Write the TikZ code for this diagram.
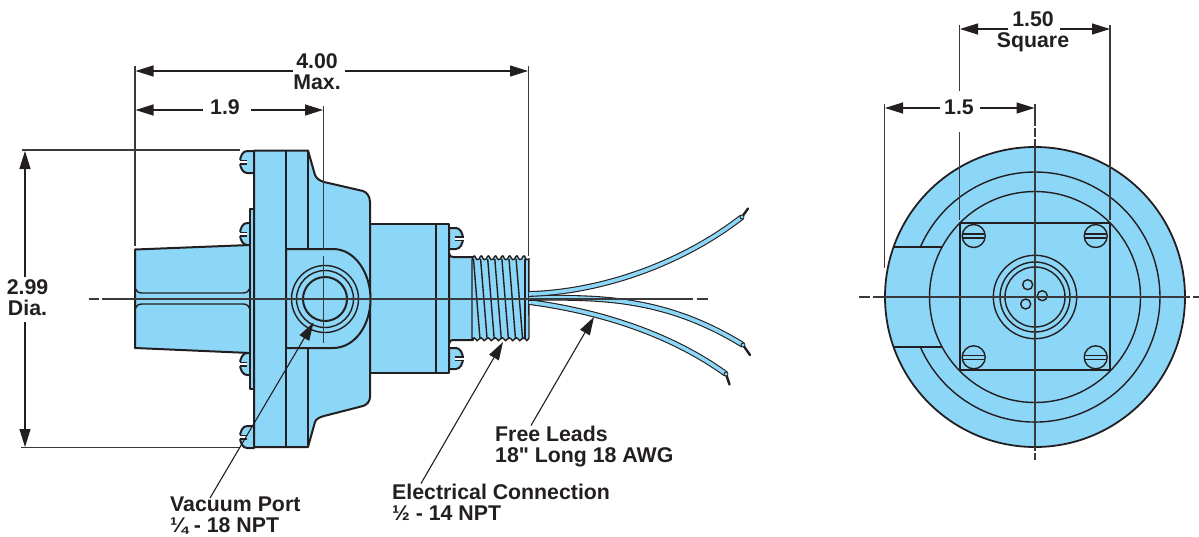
\documentclass[tikz,border=0pt]{standalone}
\usepackage{fontspec}
\newfontfamily\plainfont{Liberation Sans}
\usetikzlibrary{arrows.meta}
\definecolor{partblue}{HTML}{8CD6F7}
\definecolor{ink}{HTML}{231F20}
\definecolor{dimink}{HTML}{3A3A3C}
\tikzset{
  part/.style={fill=partblue,draw=ink,line width=2pt,line join=round},
  edge/.style={draw=ink,line width=2pt},
  thin part/.style={draw=ink,line width=1.4pt},
  ext/.style={draw=dimink,line width=1.2pt},
  centre/.style={draw=dimink,line width=1.4pt},
  dimension/.style={draw=ink,line width=1.2pt,-{Triangle[length=18pt,width=11pt]}},
  leader/.style={draw=ink,line width=1.1pt,-{Triangle[length=18pt,width=11pt]}},
  wire/.style={draw=ink,line width=1.1pt,double=partblue,double distance=3.6pt},
  tip/.style={draw=ink,line width=2.4pt,line cap=round},
  txt/.style={font=\plainfont\bfseries\fontsize{21.3}{21}\selectfont,text=ink,inner sep=0pt,align=center},
  lbl/.style={font=\plainfont\bfseries\fontsize{21.3}{21}\selectfont,text=ink,inner sep=0pt,align=left,anchor=west},
}
\begin{document}
\begin{tikzpicture}[x=1pt,y=-1pt]
\useasboundingbox (0,0) rectangle (1199,536);
% ---------- left view: screws
\foreach \sy in {162,234,364,437}{
  \filldraw[part] (254,\sy-11) -- (247,\sy-11) .. controls (243,\sy-11) and (240,\sy-6) .. (240,\sy) .. controls (240,\sy+6) and (243,\sy+11) .. (247,\sy+11) -- (254,\sy+11) -- cycle;
  \fill[white] (239,\sy-1.6) rectangle (247,\sy+1.6);
  \draw[thin part] (239.5,\sy-1.8) -- (247,\sy-1.8) (239.5,\sy+1.8) -- (247,\sy+1.8);
}
\foreach \sy in {238.5,358.5}{
  \filldraw[part] (449,\sy-10.5) -- (456,\sy-10.5) .. controls (460,\sy-10.5) and (463,\sy-5) .. (463,\sy) .. controls (463,\sy+5) and (460,\sy+10.5) .. (456,\sy+10.5) -- (449,\sy+10.5) -- cycle;
  \fill[white] (455,\sy-1.5) rectangle (464,\sy+1.5);
  \draw[thin part] (455,\sy-1.7) -- (463.5,\sy-1.7) (455,\sy+1.7) -- (463.5,\sy+1.7);
}
% nose
\filldraw[part] (135,249.5) -- (250,245) -- (250,353) -- (135,348) -- cycle;
\draw[thin part] (135,288) .. controls (136,291) and (138,293) .. (142,293) -- (243,293) .. controls (247,293) and (249,291) .. (250,288);
\draw[thin part] (135,309) .. controls (136,306) and (138,304) .. (142,304) -- (243,304) .. controls (247,304) and (249,306) .. (250,309);
% thin plate and strips
\filldraw[part] (250,209) rectangle (254,389);
% rear body
\filldraw[part] (370,224) rectangle (449,373);
\draw[edge] (436,224) -- (436,373);
% stub
\filldraw[part] (449,253) .. controls (449,256) and (451,257) .. (453,257) -- (473,257) -- (473,340) -- (453,340) .. controls (451,340) and (449,341) .. (449,344) -- cycle;
% main body
\filldraw[part] (254,150.5) -- (308,150.5) -- (315,175) .. controls (316,178) and (320,181) .. (324,182) -- (363,191) .. controls (367,192) and (370,197) .. (370,202) -- (370,397) .. controls (370,401) and (367,405) .. (363,406) -- (324,416) .. controls (320,417) and (316,419) .. (315,422) -- (308,447) -- (254,447) -- cycle;
\draw[edge] (286,150.5) -- (286,447);
\draw[edge] (308,150.5) -- (308,249) (308,348) -- (308,447);
% port boss
\filldraw[part] (286,249) -- (333,249) .. controls (355,249) and (370.5,273) .. (370.5,299) .. controls (370.5,325) and (355,348) .. (333,348) -- (286,348) -- cycle;
\draw[thin part] (325,299) circle[radius=33.5pt];
\draw[thin part] (325,299) circle[radius=28.5pt];
\draw[edge] (325,299) circle[radius=22pt];
% thread
\filldraw[thin part,fill=partblue] (472,260) \foreach \tx in {0,...,7}{ .. controls (472+7.1*\tx+1.5,255) and (472+7.1*\tx+3,255) .. (472+7.1*\tx+3.6,258) .. controls (472+7.1*\tx+4.5,260) and (472+7.1*\tx+5.5,260) .. (472+7.1*\tx+7.1,259) } -- (529,338) \foreach \tx in {7,...,0}{ .. controls (472+7.1*\tx+5.5,341) and (472+7.1*\tx+4.5,341.5) .. (472+7.1*\tx+3.6,339) .. controls (472+7.1*\tx+3,338) and (472+7.1*\tx+1.5,337) .. (472+7.1*\tx,339) } -- cycle;
\foreach \tx in {0,...,6}{
  \draw[thin part] (473.5+7.1*\tx,259) -- (480+7.1*\tx,339);
}
\draw[thin part] (525,259) -- (525,339);
% wires
\coordinate (w0a) at (529,294);
\coordinate (w0b) at (529,298);
\coordinate (w0c) at (529,302);
\coordinate (w1) at (742,217);
\coordinate (w2) at (743,345);
\coordinate (w3) at (726,374);
\coordinate (t1) at (748,208.5);
\coordinate (t2) at (750,355);
\coordinate (t3) at (729.5,384.5);
\draw[wire] (w0c) .. controls (590,310) and (665,330) .. (w3);
\draw[wire] (w0b) .. controls (600,297) and (665,297) .. (w2);
\draw[wire] (w0a) .. controls (600,292) and (680,265) .. (w1);
\draw[tip] (w1) -- (t1);
\draw[tip] (w2) -- (t2);
\draw[tip] (w3) -- (t3);
\foreach \wn in {w1,w2,w3}{
  \filldraw[draw=ink,fill=partblue,line width=.8pt] (\wn) circle[radius=2pt];
}
% ---------- left view: centre lines
\coordinate (cl1) at (89,299);
\coordinate (cl2) at (99,299);
\coordinate (cl3) at (102,299);
\coordinate (cl4) at (693,299);
\coordinate (cl5) at (697,299);
\coordinate (cl6) at (708,299);
\draw[centre] (cl1) -- (cl2) (cl3) -- (cl4) (cl5) -- (cl6);
\coordinate (cv1) at (323.5,106);
\coordinate (cv2) at (323.5,250);
\coordinate (cv3) at (323.5,256);
\coordinate (cv4) at (323.5,343);
\draw[centre] (cv1) -- (cv2) (cv3) -- (cv4);
% ---------- left view: dimensions
\coordinate (eA1) at (135,66);
\coordinate (eA2) at (135,246);
\coordinate (eB1) at (528.5,66);
\coordinate (eB2) at (528.5,256);
\draw[ext] (eA1) -- (eA2);
\draw[ext] (eB1) -- (eB2);
\coordinate (eC1) at (22,150);
\coordinate (eC2) at (240,150);
\coordinate (eD1) at (21,447.7);
\coordinate (eD2) at (240,447.7);
\draw[ext] (eC1) -- (eC2);
\draw[ext] (eD1) -- (eD2);
\node[txt] (d400) at (317,72) {4.00\\Max.};
\coordinate (d400a) at (293,71);
\coordinate (d400b) at (345,71);
\coordinate (d400l) at (135.5,71);
\coordinate (d400r) at (528,71);
\draw[dimension] (d400a) -- (d400l);
\draw[dimension] (d400b) -- (d400r);
\node[txt] (d19) at (225,107) {1.9};
\coordinate (d19a) at (203,110);
\coordinate (d19b) at (251,110);
\coordinate (d19l) at (135.5,110);
\coordinate (d19r) at (323,110);
\draw[dimension] (d19a) -- (d19l);
\draw[dimension] (d19b) -- (d19r);
\node[txt] (d299) at (27.5,297.5) {2.99\\Dia.};
\coordinate (d299a) at (25,277);
\coordinate (d299b) at (25,322);
\coordinate (d299t) at (25,151);
\coordinate (d299u) at (25,447);
\draw[dimension] (d299a) -- (d299t);
\draw[dimension] (d299b) -- (d299u);
% ---------- right view
\filldraw[part,line width=1.8pt] (1035,297) circle[radius=150pt];
\draw[thin part] (920.4,247) arc[start angle=156.4,end angle=-156.4,radius=125pt];
\draw[thin part] (1035,297) circle[radius=105.5pt];
\draw[thin part] (894,247) -- (942,247) (894,347) -- (942,347);
\draw[thin part] (960,223) rectangle (1110,370);
\foreach \cx/\cy in {973.7/236,1095.7/236,973.7/357.3,1095.7/357.3}{
  \draw[thin part] (\cx,\cy) circle[radius=11.5pt];
  \draw[thin part] (\cx-11,\cy-2) -- (\cx+11,\cy-2) (\cx-11,\cy+2) -- (\cx+11,\cy+2);
}
\draw[thin part] (1035,297) circle[radius=41.7pt];
\draw[thin part] (1035,297) circle[radius=35pt];
\draw[thin part] (1035,297) circle[radius=30pt];
\draw[thin part] (1027.7,284.7) circle[radius=5pt];
\draw[thin part] (1042.3,295.7) circle[radius=5pt];
\draw[thin part] (1025.7,304) circle[radius=5pt];
% right view: centre lines
\coordinate (rh1) at (859,297);
\coordinate (rh2) at (870,297);
\coordinate (rh3) at (873,297);
\coordinate (rh4) at (1190,297);
\coordinate (rh5) at (1193,297);
\coordinate (rh6) at (1199,297);
\draw[centre] (rh1) -- (rh2) (rh3) -- (rh4) (rh5) -- (rh6);
\coordinate (rv1) at (1035,104);
\coordinate (rv2) at (1035,126);
\coordinate (rv3) at (1035,128);
\coordinate (rv4) at (1035,137);
\coordinate (rv5) at (1035,139);
\coordinate (rv6) at (1035,451);
\coordinate (rv7) at (1035,453);
\coordinate (rv8) at (1035,460);
\draw[centre] (rv1) -- (rv2) (rv3) -- (rv4) (rv5) -- (rv6) (rv7) -- (rv8);
% right view: dimensions
\coordinate (eE1) at (959.5,25);
\coordinate (eE2) at (959.5,91);
\coordinate (eE3) at (959.5,132);
\coordinate (eE4) at (959.5,220);
\coordinate (eF1) at (1110,25);
\coordinate (eF2) at (1110,220);
\coordinate (eG1) at (884.5,104);
\coordinate (eG2) at (884.5,268);
\draw[ext] (eE1) -- (eE2) (eE3) -- (eE4);
\draw[ext] (eF1) -- (eF2);
\draw[ext] (eG1) -- (eG2);
\node[txt] (d150) at (1033,31.5) {1.50\\Square};
\coordinate (d150a) at (1008,29);
\coordinate (d150b) at (1060,29);
\coordinate (d150l) at (960,29);
\coordinate (d150r) at (1110,29);
\draw[dimension] (d150a) -- (d150l);
\draw[dimension] (d150b) -- (d150r);
\node[txt] (d15) at (959,107) {1.5};
\coordinate (d15a) at (940,108);
\coordinate (d15b) at (980,108);
\coordinate (d15l) at (885,108);
\coordinate (d15r) at (1034.5,108);
\draw[dimension] (d15a) -- (d15l);
\draw[dimension] (d15b) -- (d15r);
% ---------- callouts
\node[lbl] (vp) at (170,515.5) {Vacuum Port\\¼ - 18 NPT};
\node[lbl] (ec) at (392,502.5) {Electrical Connection\\½ - 14 NPT};
\node[lbl] (fl) at (495,446.5) {Free Leads\\18" Long 18 AWG};
\coordinate (vpTail) at (210,498);
\coordinate (vpTip) at (313.5,322.5);
\coordinate (ecTail) at (421,483.5);
\coordinate (ecTip) at (503,342);
\coordinate (flTail) at (531,425.5);
\coordinate (flTip) at (594,317);
\draw[leader] (vpTail) -- (vpTip);
\draw[leader] (ecTail) -- (ecTip);
\draw[leader] (flTail) -- (flTip);
\end{tikzpicture}
\end{document}
